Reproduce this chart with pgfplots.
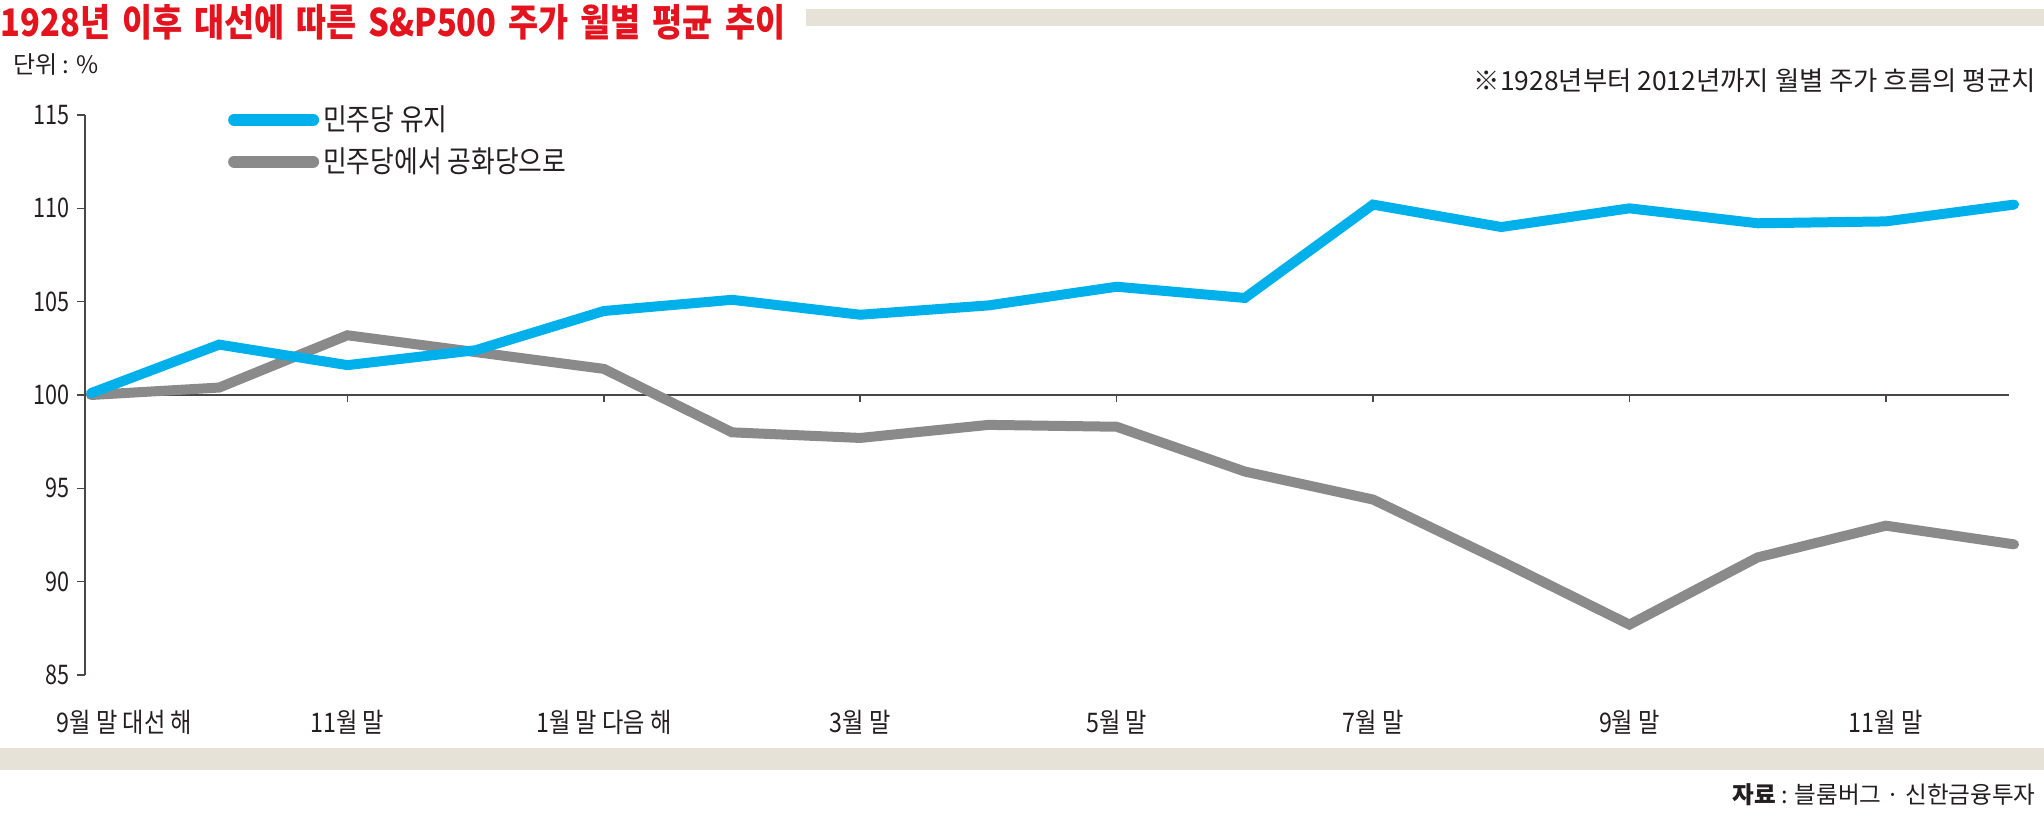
\documentclass[border=0pt]{standalone}
\usepackage{pgfplots}
\pgfplotsset{compat=1.18}
\usepackage{pgfplotstable}
\usepackage{fontspec}
\setmainfont{Noto Sans CJK KR}[FakeStretch=0.86]
\newfontfamily\plainfont{Noto Sans CJK KR}
\newfontfamily\titlefont{Noto Sans CJK KR}[FakeStretch=0.86, WordSpace=1.6]

\definecolor{demblue}{HTML}{00B0EB}
\definecolor{mixgray}{HTML}{8A8A8A}
\definecolor{titlered}{HTML}{E3141E}
\definecolor{barbeige}{HTML}{E7E2D8}
\definecolor{axisgray}{HTML}{4D4646}
\definecolor{txt}{HTML}{231F20}

% index 0 = 9월 말 (대선 해) ... 15 = 12월 말 (다음 해)
\pgfplotstableread{
x  keep  swap
0  100.1 100.0
1  102.7 100.4
2  101.6 103.2
3  102.4 102.3
4  104.5 101.4
5  105.1 98.0
6  104.3 97.7
7  104.8 98.4
8  105.8 98.3
9  105.2 95.9
10 110.2 94.4
11 109.0 91.1
12 110.0 87.7
13 109.2 91.3
14 109.3 93.0
15 110.2 92.0
}\avgdata

\begin{document}
\begin{tikzpicture}
\path[use as bounding box] (0pt,0pt) rectangle (1022pt,-406.5pt);
\fill[barbeige] (403pt,-4.5pt) rectangle (1022pt,-13pt);
\fill[barbeige] (0pt,-374pt) rectangle (1022pt,-385pt);
\node[anchor=west, inner sep=0pt, text=titlered, font=\titlefont\bfseries\fontsize{19}{21}\selectfont]
  at (0pt,-11pt) {1928년 이후 대선에 따른 S\&P500 주가 월별 평균 추이};
\node[anchor=west, inner sep=0pt, text=txt, font=\plainfont\fontsize{12}{14}\selectfont]
  at (6.5pt,-32.5pt) {단위 : \%};
\node[anchor=east, inner sep=0pt, text=txt, font=\plainfont\fontsize{13.2}{15}\selectfont]
  at (1018pt,-40.5pt) {※1928년부터 2012년까지 월별 주가 흐름의 평균치};
\node[anchor=east, inner sep=0pt, text=txt, font=\plainfont\fontsize{11.8}{14}\selectfont]
  at (1018pt,-397.5pt) {\textbf{자료} : 블룸버그 · 신한금융투자};

\begin{axis}[
  at={(42.5pt,-337.5pt)}, anchor=south west,
  scale only axis, width=964.5pt, height=280pt,
  xmin=-0.047, xmax=15, ymin=85, ymax=115,
  axis y line=left, axis x line=bottom,
  axis line style={-, draw=axisgray, line width=0.75pt},
  x axis line style={draw=none},
  xtick={2,4,6,8,10,12,14},
  xticklabels={11월 말, 1월 말 다음 해, 3월 말, 5월 말, 7월 말, 9월 말, 11월 말},
  xtick style={draw=none},
  ytick={85,90,...,115},
  ytick style={draw=axisgray, line width=0.75pt},
  tick align=outside, major tick length=4pt,
  /pgf/number format/assume math mode=true,
  ticklabel style={font=\fontsize{13.5}{15}\selectfont, text=txt},
  xticklabel style={yshift=-10pt},
  yticklabel style={font=\addfontfeature{FakeStretch=0.8}\fontsize{13.5}{15}\selectfont},
  legend style={at={(axis description cs:0.074,1.024)}, anchor=north west,
    draw=none, fill=none, inner sep=0pt, row sep=3pt,
    font=\fontsize{15}{17}\selectfont, text=txt},
  legend cell align=left,
  legend image code/.code={\draw[#1, line width=6pt, line cap=round] (3pt,0pt) -- (42.5pt,0pt);},
  reverse legend,
  clip=false,
]
\draw[axisgray, line width=0.75pt] (axis cs:-0.047,100) -- (axis cs:14.96,100);
\pgfplotsinvokeforeach{2,4,6,8,10,12,14}{
  \draw[axisgray, line width=0.75pt] (axis cs:#1,100) -- ++(0pt,-3.5pt);
}
\node[font=\fontsize{13.5}{15}\selectfont, text=txt, anchor=north, yshift=-14pt] at (axis cs:0.26,85) {9월 말 대선 해};
\addplot[mixgray, line width=5pt, line cap=round] table[x=x, y=swap] {\avgdata};
\addlegendentry{민주당에서 공화당으로}
\addplot[demblue, line width=5pt, line cap=round] table[x=x, y=keep] {\avgdata};
\addlegendentry{민주당 유지}
\end{axis}
\end{tikzpicture}
\end{document}
